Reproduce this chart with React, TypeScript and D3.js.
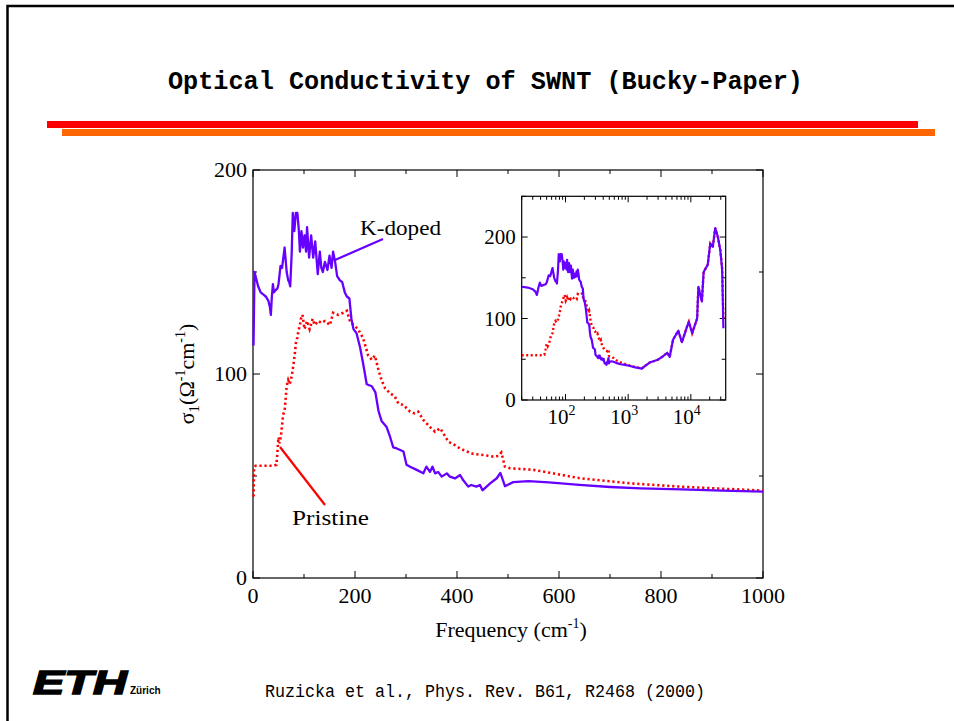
import React from "react";
import * as d3 from "d3";

// ---- Data ----
const kFreq = [1, 3, 5, 10, 15, 20, 25, 30, 33, 35, 37, 39, 41, 44, 48, 50, 54, 57, 60, 62, 64, 66, 69, 71, 73, 76, 78, 81, 84, 87, 90, 92, 95, 98, 101, 104, 106, 110, 114, 118, 122, 127, 131, 134, 137, 141, 146, 150, 154, 157, 161, 165, 170, 175, 180, 184, 189, 193, 197, 203, 210, 216, 223, 233, 240, 246, 252, 262, 269, 275, 282, 295, 301, 308, 321, 334, 340, 347, 352, 357, 363, 370, 380, 386, 396, 406, 412, 422, 428, 438, 445, 450, 465, 478, 485, 490, 494, 510, 540, 580, 640, 700, 760, 840, 920, 1000];
const kSigma = [114, 150, 148, 143, 140, 139, 138, 136, 133, 129, 138, 144, 140, 141, 142, 144, 153, 152, 158, 162, 156, 150, 146, 145, 143, 160, 179, 170, 179, 179, 170, 160, 170, 162, 168, 160, 172, 157, 168, 157, 165, 149, 160, 152, 150, 155, 151, 158, 152, 160, 155, 148, 146, 145, 140, 138, 137, 127, 122, 120, 113, 105, 95, 94, 91, 82, 77, 74, 69, 64, 63.5, 62, 55.5, 54.5, 53, 51.3, 54.6, 52, 54.6, 51.3, 52, 49.7, 51.3, 49.7, 48.8, 50.5, 48, 44.8, 45.6, 44.8, 45.6, 43, 46.4, 48.9, 51.5, 48, 45, 47, 47.5, 46.9, 45.6, 44.6, 43.9, 43.4, 42.8, 42.3];

const pFreq = [1, 2, 5, 20, 40, 46, 48, 50, 52, 55, 59, 62, 66, 69, 72, 76, 79, 82, 84, 87, 89, 92, 94, 97, 101, 106, 111, 117, 121, 128, 134, 141, 151, 157, 167, 177, 184, 190, 197, 206, 216, 226, 233, 239, 246, 252, 259, 269, 278, 285, 295, 308, 317, 324, 334, 347, 357, 367, 373, 383, 396, 406, 419, 432, 452, 471, 481, 487, 494, 504, 550, 582, 641, 739, 837, 1000];
const pSigma = [40, 54, 55, 55, 55, 55.5, 62, 69, 66, 70, 80, 82, 94, 97, 95, 99, 104, 110, 115, 118, 121, 124, 127, 129, 122, 126, 122, 127, 124, 126, 125, 126, 124, 130, 129, 130, 131, 126, 124, 122, 117.5, 109, 107, 109, 102, 97, 93, 90.5, 89, 85.6, 84.8, 81.5, 80.7, 81.5, 77.5, 74, 71.7, 73.4, 71, 66.8, 65.1, 63.5, 62, 60.8, 60.3, 59.5, 59.8, 61.5, 54.6, 53.8, 53, 51.6, 48.9, 46.4, 44.8, 42.8];

// high-frequency part (inset only)
const highFreq = [1300, 1650, 1800, 2200, 2900, 3500, 4200, 4600, 5200, 6300, 7200, 8700, 9300, 10500, 12600, 13200, 15000, 16000, 18600, 20400, 22400, 24500, 27000, 29500, 31600, 33100];
const kHighSigma = [40, 38.5, 41, 46, 49, 53, 58, 53, 74, 85, 71, 90, 96, 82, 100, 139, 121, 157, 166, 192, 188, 211, 200, 184, 160, 88];
const pHighSigma = [40.5, 39, 41, 46, 49, 53, 58, 53, 74, 85, 71, 90, 96, 82, 100, 139, 121, 157, 166, 192, 188, 211, 200, 184, 162, 100];

const mainXTicks = [0, 100, 200, 300, 400, 500, 600, 700, 800, 900, 1000];
const mainYTicks = [0, 50, 100, 150, 200];
const insetYTicks = [0, 50, 100, 150, 200, 250];
const insetYLabels = [0, 100, 200];
const insetDecades = [2, 3, 4];

const title = "Optical Conductivity of SWNT (Bucky-Paper)";
const citation = "Ruzicka et al., Phys. Rev. B61, R2468 (2000)";

const PURPLE = "#6600ff";
const RED = "#ff0000";
const SERIF = "'Liberation Serif', 'Times New Roman', serif";

type Pt = [number, number];
const zip = (a: number[], b: number[]): Pt[] => a.map((v, i) => [v, b[i]]);

export default function App() {
  // main scales
  const x = d3.scaleLinear().domain([0, 1000]).range([253, 763]);
  const y = d3.scaleLinear().domain([0, 200]).range([578, 170]);
  // inset scales
  const xi = d3.scaleLog().domain([20, 36000]).range([521.7, 725.7]);
  const yi = d3.scaleLinear().domain([0, 250]).range([400, 196.3]);

  const kMain = zip(kFreq, kSigma);
  const pMain = zip(pFreq, pSigma);
  const kAll = kMain.concat(zip(highFreq, kHighSigma)).filter((d) => d[0] >= 20);
  const pAll = pMain.concat(zip(highFreq, pHighSigma)).filter((d) => d[0] >= 20);

  const lineMain = d3.line<Pt>().x((d) => x(d[0])).y((d) => y(d[1]));
  const lineInset = d3.line<Pt>().x((d) => xi(d[0])).y((d) => yi(d[1]));

  const [x0, x1] = x.range();
  const [yb, yt] = y.range();
  const [ix0, ix1] = xi.range();
  const [iyb, iyt] = yi.range();

  // inset log minor ticks
  const logTicks: { v: number; major: boolean }[] = [];
  for (let e = 1; e <= 4; e++) {
    for (let m = 1; m <= 9; m++) {
      const v = m * Math.pow(10, e);
      if (v >= 20 && v <= 36000) logTicks.push({ v, major: m === 1 });
    }
  }

  return (
    <svg
      width={954}
      height={721}
      style={{ position: "absolute", left: 0, top: 0, background: "#fff" }}
    >
      <rect x={0} y={0} width={954} height={721} fill="#fff" />
      {/* slide frame */}
      <path d="M7.5,721 V6 H954" fill="none" stroke="#000" strokeWidth={2.5} />

      {/* title */}
      <text
        x={168}
        y={89}
        fontFamily="'Liberation Mono', 'Courier New', monospace"
        fontWeight="bold"
        fontSize={25}
        textLength={635}
        lengthAdjust="spacingAndGlyphs"
        fill="#000"
      >
        {title}
      </text>

      {/* bars */}
      <rect x={47} y={121} width={871} height={7} fill="#ff0000" />
      <rect x={62} y={129} width={873} height={7} fill="#ff6600" />

      {/* ---- main plot ---- */}
      <rect x={x0} y={yt} width={x1 - x0} height={yb - yt} fill="none" stroke="#000" strokeWidth={1.2} />
      {mainXTicks.map((t) => {
        const major = t % 200 === 0;
        const len = major ? 7 : 4;
        return (
          <g key={"xt" + t}>
            <line x1={x(t)} x2={x(t)} y1={yb} y2={yb - len} stroke="#000" strokeWidth={1} />
            <line x1={x(t)} x2={x(t)} y1={yt} y2={yt + len} stroke="#000" strokeWidth={1} />
            {major && (
              <text x={x(t)} y={yb + 25} textAnchor="middle" fontFamily={SERIF} fontSize={22} fill="#000">
                {t}
              </text>
            )}
          </g>
        );
      })}
      {mainYTicks.map((t) => {
        const major = t % 100 === 0;
        const len = major ? 7 : 4;
        return (
          <g key={"yt" + t}>
            <line x1={x0} x2={x0 + len} y1={y(t)} y2={y(t)} stroke="#000" strokeWidth={1} />
            <line x1={x1} x2={x1 - len} y1={y(t)} y2={y(t)} stroke="#000" strokeWidth={1} />
            {major && (
              <text x={x0 - 6} y={y(t) + 7} textAnchor="end" fontFamily={SERIF} fontSize={22} fill="#000">
                {t}
              </text>
            )}
          </g>
        );
      })}

      {/* axis titles */}
      <text x={511} y={637} textAnchor="middle" fontFamily={SERIF} fontSize={22} fill="#000">
        Frequency (cm
        <tspan dy={-9} fontSize={14}>-1</tspan>
        <tspan dy={9}>)</tspan>
      </text>
      <text
        transform="translate(194,374) rotate(-90)"
        textAnchor="middle"
        fontFamily={SERIF}
        fontSize={22}
        fill="#000"
      >
        σ<tspan dy={5} fontSize={15}>1</tspan>
        <tspan dy={-5}>(Ω</tspan>
        <tspan dy={-9} fontSize={14}>-1</tspan>
        <tspan dy={9}>cm</tspan>
        <tspan dy={-9} fontSize={14}>-1</tspan>
        <tspan dy={9}>)</tspan>
      </text>

      {/* curves */}
      <path d={lineMain(pMain) || ""} fill="none" stroke={RED} strokeWidth={2.6} strokeDasharray="2.2,2.8" />
      <path d={lineMain(kMain) || ""} fill="none" stroke={PURPLE} strokeWidth={2.3} strokeLinejoin="round" />

      {/* annotations */}
      <line x1={335} y1={260} x2={383} y2={239} stroke={PURPLE} strokeWidth={2.2} />
      <text x={360} y={235} fontFamily={SERIF} fontSize={22} textLength={81} lengthAdjust="spacingAndGlyphs" fill="#000">K-doped</text>
      <line x1={280} y1={447} x2={325} y2={505} stroke={RED} strokeWidth={2.2} />
      <text x={292} y={525} fontFamily={SERIF} fontSize={22} textLength={77} lengthAdjust="spacingAndGlyphs" fill="#000">Pristine</text>

      {/* ---- inset ---- */}
      <clipPath id="insetClip">
        <rect x={ix0} y={iyt} width={ix1 - ix0} height={iyb - iyt} />
      </clipPath>
      <rect x={ix0} y={iyt} width={ix1 - ix0} height={iyb - iyt} fill="#fff" stroke="#000" strokeWidth={1.2} />
      {logTicks.map((t) => {
        const len = t.major ? 6 : 3.5;
        return (
          <g key={"lt" + t.v}>
            <line x1={xi(t.v)} x2={xi(t.v)} y1={iyb} y2={iyb - len} stroke="#000" strokeWidth={1} />
            <line x1={xi(t.v)} x2={xi(t.v)} y1={iyt} y2={iyt + len} stroke="#000" strokeWidth={1} />
          </g>
        );
      })}
      {insetDecades.map((e) => (
        <text key={"dl" + e} x={xi(Math.pow(10, e)) - 4} y={iyb + 24} textAnchor="middle" fontFamily={SERIF} fontSize={21} fill="#000">
          10<tspan dy={-9} fontSize={14}>{e}</tspan>
        </text>
      ))}
      {insetYTicks.map((t) => {
        const major = t % 100 === 0;
        const len = major ? 6 : 4;
        return (
          <g key={"iyt" + t}>
            <line x1={ix0} x2={ix0 + len} y1={yi(t)} y2={yi(t)} stroke="#000" strokeWidth={1} />
            <line x1={ix1} x2={ix1 - len} y1={yi(t)} y2={yi(t)} stroke="#000" strokeWidth={1} />
          </g>
        );
      })}
      {insetYLabels.map((t) => (
        <text key={"iyl" + t} x={ix0 - 6} y={yi(t) + 7} textAnchor="end" fontFamily={SERIF} fontSize={21} fill="#000">
          {t}
        </text>
      ))}
      <g clipPath="url(#insetClip)">
        <path d={lineInset(pAll) || ""} fill="none" stroke={RED} strokeWidth={2.4} strokeDasharray="2,2.5" />
        <path d={lineInset(kAll) || ""} fill="none" stroke={PURPLE} strokeWidth={2.2} strokeLinejoin="round" />
      </g>

      {/* footer */}
      <text
        x={33}
        y={694}
        fontFamily="'Liberation Sans', Arial, sans-serif"
        fontWeight="bold"
        fontStyle="italic"
        fontSize={34}
        textLength={94}
        lengthAdjust="spacingAndGlyphs"
        stroke="#000"
        strokeWidth={1.5}
        fill="#000"
      >
        ETH
      </text>
      <text x={130} y={694} fontFamily="'Liberation Sans', Arial, sans-serif" fontWeight="bold" fontSize={10} fill="#000">
        Zürich
      </text>
      <text
        x={265}
        y={697}
        fontFamily="'Liberation Mono', 'Courier New', monospace"
        fontSize={19}
        textLength={440}
        lengthAdjust="spacingAndGlyphs"
        fill="#000"
      >
        {citation}
      </text>
    </svg>
  );
}
